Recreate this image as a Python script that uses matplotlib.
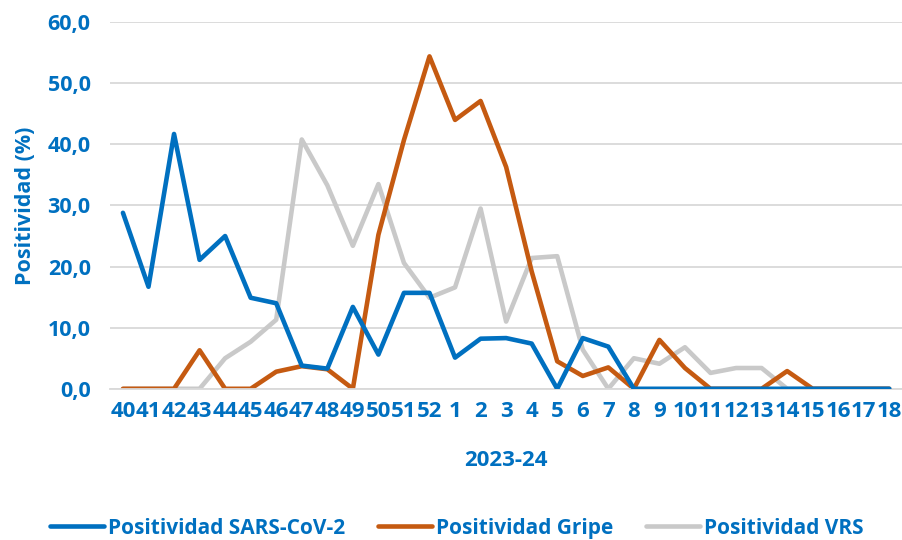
import matplotlib
matplotlib.use("Agg")
import matplotlib.pyplot as plt
from matplotlib.ticker import FuncFormatter

# ── data ──────────────────────────────────────────────────────────────────────
weeks = [str(w) for w in range(40, 53)] + [str(w) for w in range(1, 19)]

sars_cov2 = [28.8, 16.7, 41.7, 21.1, 25.0, 14.9, 14.0, 3.8, 3.3, 13.4,
             5.6, 15.7, 15.7, 5.1, 8.2, 8.3, 7.4, 0.0, 8.3, 6.9,
             0.0, 0.0, 0.0, 0.0, 0.0, 0.0, 0.0, 0.0, 0.0, 0.0, 0.0]
gripe = [0.0, 0.0, 0.0, 6.3, 0.0, 0.0, 2.8, 3.7, 3.2, 0.0,
         25.2, 40.7, 54.4, 44.0, 47.1, 36.3, 19.2, 4.5, 2.1, 3.5,
         0.0, 8.0, 3.4, 0.0, 0.0, 0.0, 2.9, 0.0, 0.0, 0.0, 0.0]
vrs = [0.0, 0.0, 0.0, 0.0, 5.0, 7.7, 11.3, 40.8, 33.3, 23.4,
       33.5, 20.6, 14.9, 16.6, 29.5, 11.0, 21.4, 21.7, 6.4, 0.0,
       5.0, 4.1, 6.8, 2.6, 3.4, 3.4, 0.0, 0.0, 0.0, 0.0, 0.0]

BLUE = "#0070C0"
ORANGE = "#C55A11"
GREY = "#C9C9C9"
FONT = "Open Sans"

plt.rcParams["font.family"] = [FONT, "DejaVu Sans"]

fig = plt.figure(figsize=(9.03, 5.40), dpi=100)
ax = fig.add_axes([0.122, 0.280, 0.877, 0.679])

x = list(range(len(weeks)))
ax.plot(x, sars_cov2, color=BLUE, lw=3.3, solid_joinstyle="round", solid_capstyle="round",
        label="Positividad SARS-CoV-2", zorder=3)
ax.plot(x, gripe, color=ORANGE, lw=3.3, solid_joinstyle="round", solid_capstyle="round",
        label="Positividad Gripe", zorder=2)
ax.plot(x, vrs, color=GREY, lw=3.3, solid_joinstyle="round", solid_capstyle="round",
        label="Positividad VRS", zorder=1)

ax.set_xlim(-0.5, len(weeks) - 0.5)
ax.set_ylim(0, 60)
ax.set_yticks(range(0, 61, 10))
ax.yaxis.set_major_formatter(FuncFormatter(lambda v, _: f"{v:.1f}".replace(".", ",")))
ax.set_xticks(x)
ax.set_xticklabels(weeks)

ax.grid(axis="y", color="#D9D9D9", lw=1.3)
ax.set_axisbelow(True)
for s in ["top", "right", "left"]:
    ax.spines[s].set_visible(False)
ax.spines["bottom"].set_color("#D9D9D9")
ax.spines["bottom"].set_linewidth(1.3)
ax.tick_params(length=0, labelcolor=BLUE)
ax.tick_params(axis="x", pad=9, labelsize=16)
ax.tick_params(axis="y", pad=14, labelsize=15.5)
for lab in ax.get_xticklabels() + ax.get_yticklabels():
    lab.set_fontweight("bold")

ax.set_ylabel("Positividad (%)", fontsize=15.5, fontweight="bold", color=BLUE, labelpad=8)
ax.set_xlabel("2023-24", fontsize=16, fontweight="bold", color=BLUE, labelpad=20)

leg = fig.legend(loc="center", bbox_to_anchor=(0.506, 0.022), ncol=3, frameon=False,
                 fontsize=15, handlelength=2.6, columnspacing=1.55, handletextpad=0.2)
for t in leg.get_texts():
    t.set_color(BLUE)
    t.set_fontweight("bold")

fig.savefig("out.png", dpi=100)
